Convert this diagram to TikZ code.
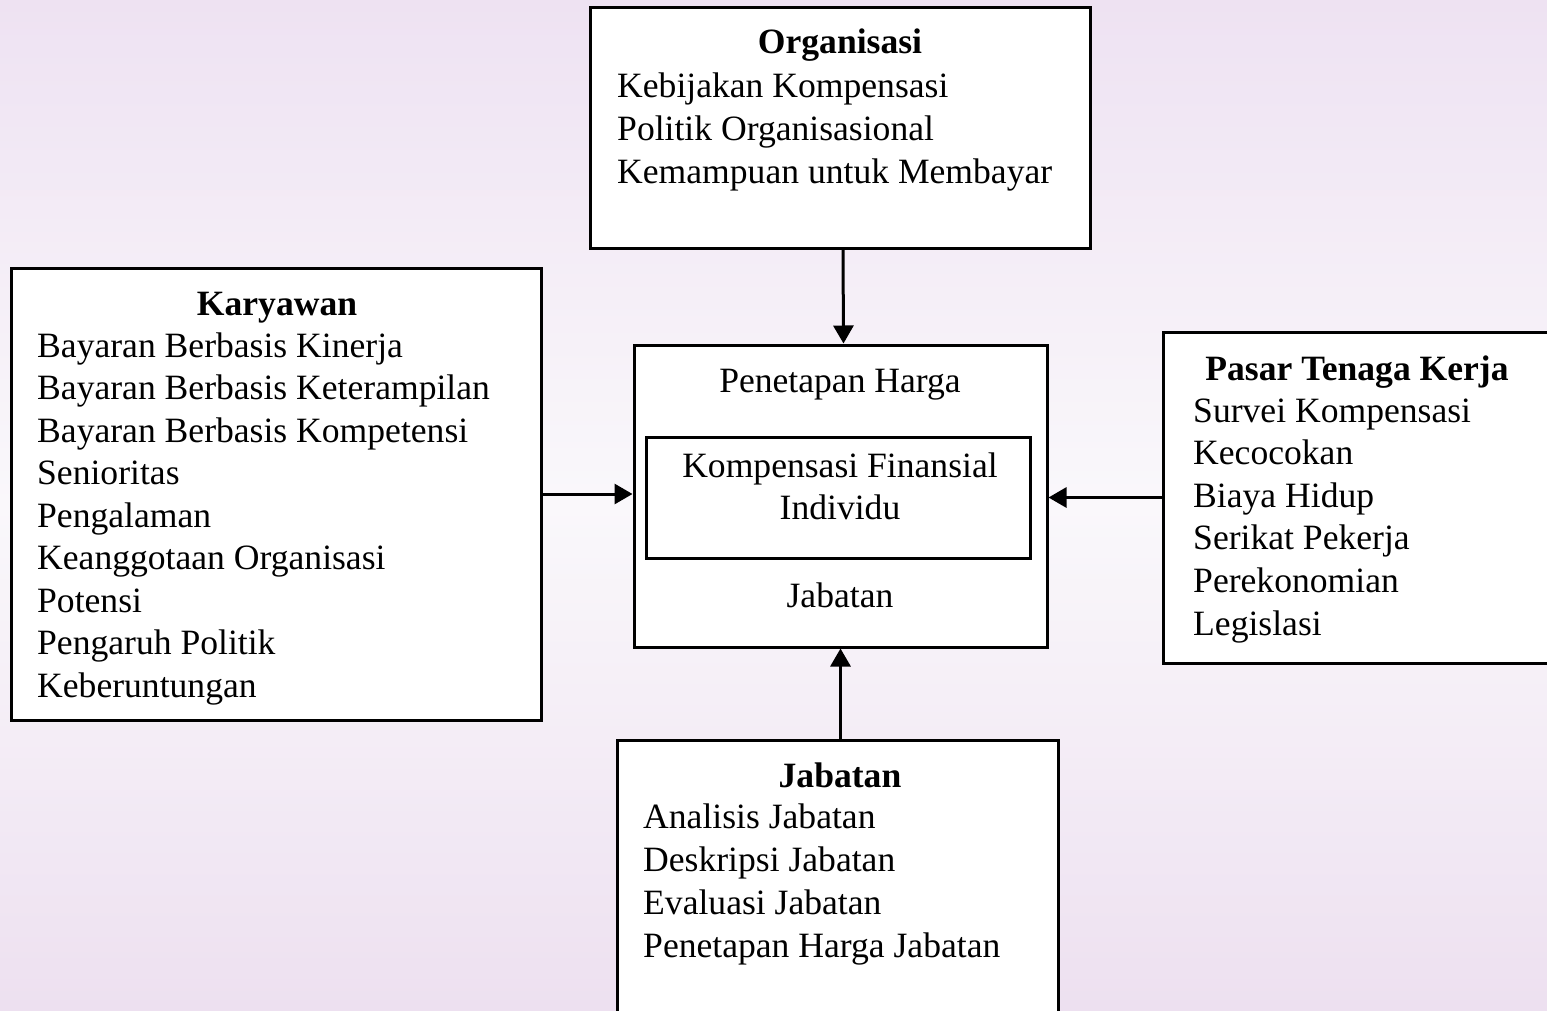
\documentclass[tikz,border=0pt]{standalone}
\usepackage{fontspec}
\setmainfont{Liberation Serif}
\usetikzlibrary{arrows.meta}

\definecolor{bgtop}{RGB}{238,226,242}
\definecolor{bgmid}{RGB}{250,248,251}
\definecolor{bgbot}{RGB}{237,224,240}

\tikzset{
  box/.style={draw=black, line width=3pt, fill=white, inner sep=0pt, minimum width=#1},
  ttl/.style={font=\fontsize{35.6}{42.6}\selectfont\bfseries, anchor=base, inner sep=0pt},
  item/.style={font=\fontsize{35.6}{42.6}\selectfont, anchor=base west, inner sep=0pt},
  ctr/.style={font=\fontsize{35.6}{42.6}\selectfont, anchor=base, inner sep=0pt},
  arr/.style={line width=3pt, -{Triangle[length=18pt,width=20pt]}}
}

\begin{document}
\begin{tikzpicture}[x=1pt, y=-1pt]
      \useasboundingbox (0,0) rectangle (1547,1010);
      \clip (0,0) rectangle (1547,1010);
      \shade[top color=bgtop, bottom color=bgbot, middle color=bgmid] (0,0) rectangle (1547,1010);

      % boxes
      \node[box=500pt, minimum height=241pt] (org) at (840,127.5) {};
      \node[box=530pt, minimum height=452pt] (kary) at (276,494) {};
      \node[box=413pt, minimum height=302pt] (harga) at (840.5,496) {};
      \node[box=384pt, minimum height=121pt] (komp) at (838,497.5) {};
      \node[box=388pt, minimum height=331pt] (pasar) at (1357,497.5) {};
      \node[box=441pt, minimum height=300pt] (jab) at (837.5,890) {};

      % Organisasi
      \node[ttl] (org-t) at (840,53) {Organisasi};
      \foreach \t [count=\i] in {Kebijakan Kompensasi, Politik Organisasional, Kemampuan untuk Membayar}
        \node[item] (org-\i) at (617,{97+43*(\i-1)}) {\t};

      % Karyawan
      \node[ttl] (kary-t) at (277,315) {Karyawan};
      \foreach \t [count=\i] in {Bayaran Berbasis Kinerja, Bayaran Berbasis Keterampilan, Bayaran Berbasis Kompetensi,
          Senioritas, Pengalaman, Keanggotaan Organisasi, Potensi, Pengaruh Politik, Keberuntungan}
        \node[item] (kary-\i) at (37,{357+42.5*(\i-1)}) {\t};

      % Penetapan Harga
      \node[ctr] (harga-t) at (840,392) {Penetapan Harga};
      \node[ctr] (komp-1) at (840,477) {Kompensasi Finansial};
      \node[ctr] (komp-2) at (840,519) {Individu};
      \node[ctr] (harga-b) at (840,607) {Jabatan};

      % Pasar Tenaga Kerja
      \node[ttl] (pasar-t) at (1357,380) {Pasar Tenaga Kerja};
      \foreach \t [count=\i] in {Survei Kompensasi, Kecocokan, Biaya Hidup, Serikat Pekerja, Perekonomian, Legislasi}
        \node[item] (pasar-\i) at (1193,{422+42.6*(\i-1)}) {\t};

      % Jabatan
      \node[ttl] (jab-t) at (840,787) {Jabatan};
      \foreach \t [count=\i] in {Analisis Jabatan, Deskripsi Jabatan, Evaluasi Jabatan, Penetapan Harga Jabatan}
        \node[item] (jab-\i) at (643,{828+43*(\i-1)}) {\t};

      % arrows
      \draw[arr] ([xshift=3pt]org.south) -- ([xshift=3pt]harga.north);
      \draw[arr] (kary.east) -- (kary.east -| harga.west);
      \draw[arr] (pasar.west) -- (pasar.west -| harga.east);
      \draw[arr] (harga.south |- jab.north) -- (harga.south);
\end{tikzpicture}
\end{document}
